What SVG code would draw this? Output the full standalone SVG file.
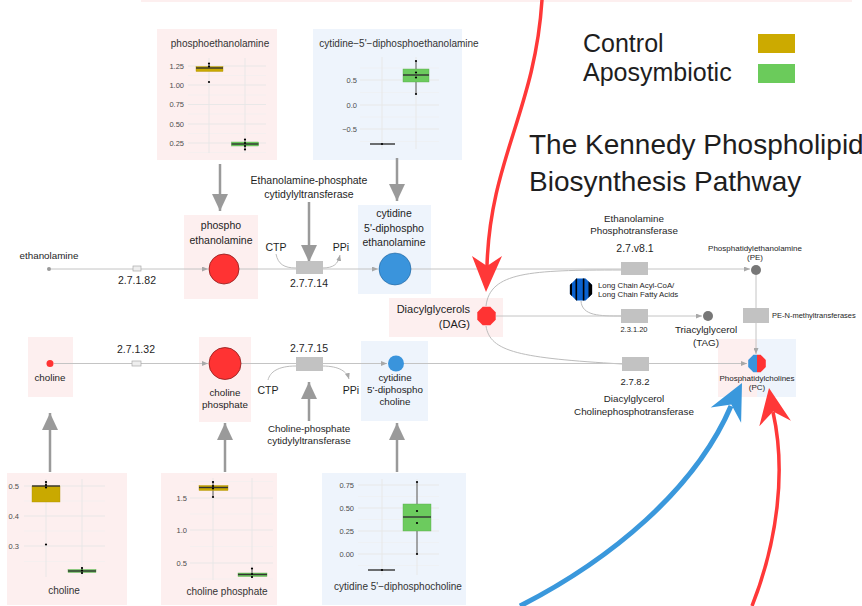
<svg xmlns="http://www.w3.org/2000/svg" width="862" height="606" viewBox="0 0 862 606">
<defs>
<style>
text{font-family:"Liberation Sans",Arial,sans-serif;fill:#1e1e1e}
.pk{fill:#fdefef}
.bl{fill:#eef4fc}
.ln{stroke:#c4c4c4;stroke-width:1;fill:none}
.cv{stroke:#bcbcbc;stroke-width:1;fill:none}
.enz{fill:#c2c2c2}
.ga{stroke:#9a9a9a;stroke-width:2.5;fill:none}
.l10{font-size:10.5px;text-anchor:middle}
.l95{font-size:9.8px;text-anchor:middle}
.l8{font-size:8px;text-anchor:middle}
.pt{font-size:10px;text-anchor:middle;fill:#333}
.tk{font-size:7.5px;text-anchor:end;fill:#4d4d4d}
.gM{stroke:#e6e6e6;stroke-width:0.9}
.gm{stroke:#efefef;stroke-width:0.5}
.gold{fill:#c9a900;stroke:#b09300;stroke-width:0.4}
.grn{fill:#6ccb5e;stroke:#55a848;stroke-width:0.4}
.med{stroke:#333;stroke-width:1.4}
.wh{stroke:#333;stroke-width:0.8}
.pd{fill:#000}
</style>
<marker id="sa" markerWidth="6" markerHeight="5" refX="6" refY="2.5" orient="auto" markerUnits="userSpaceOnUse"><path d="M0,0 L6,2.5 L0,5 z" fill="#a8a8a8"/></marker>
<marker id="gh" markerWidth="17" markerHeight="16" refX="17" refY="8" orient="auto" markerUnits="userSpaceOnUse"><path d="M0,0 L17,8 L0,16 z" fill="#9a9a9a"/></marker>
<clipPath id="lcclip"><polygon points="592.1,284.9 592.1,294.1 585.6,300.6 576.4,300.6 569.9,294.1 569.9,284.9 576.4,278.4 585.6,278.4"/></clipPath>
</defs>

<rect x="141" y="-5" width="711" height="7" class="pk"/>

<!-- plot: phosphoethanolamine -->
<g id="plot-phosphoethanolamine">
<rect x="157" y="29" width="120" height="131" class="pk"/>
<text x="220" y="47" class="pt">phosphoethanolamine</text>
<g>
<line x1="188" y1="75.5" x2="266" y2="75.5" class="gm"/><line x1="188" y1="95" x2="266" y2="95" class="gm"/><line x1="188" y1="114" x2="266" y2="114" class="gm"/><line x1="188" y1="133.5" x2="266" y2="133.5" class="gm"/><line x1="188" y1="152.5" x2="266" y2="152.5" class="gm"/>
<line x1="188" y1="66" x2="266" y2="66" class="gM"/><line x1="188" y1="85" x2="266" y2="85" class="gM"/><line x1="188" y1="104.5" x2="266" y2="104.5" class="gM"/><line x1="188" y1="124" x2="266" y2="124" class="gM"/><line x1="188" y1="143" x2="266" y2="143" class="gM"/>
<line x1="209" y1="58" x2="209" y2="153" class="gM"/><line x1="245" y1="58" x2="245" y2="153" class="gM"/>
</g>
<text x="184" y="68.5" class="tk">1.25</text><text x="184" y="87.5" class="tk">1.00</text><text x="184" y="107" class="tk">0.75</text><text x="184" y="126.5" class="tk">0.50</text><text x="184" y="145.5" class="tk">0.25</text>
<line x1="209" y1="63" x2="209" y2="68" class="wh"/>
<rect x="196" y="66.5" width="27" height="5" class="gold"/>
<line x1="196" y1="68" x2="223" y2="68" class="med"/>
<circle cx="209" cy="63.5" r="1.1" class="pd"/><circle cx="209" cy="66.5" r="1.1" class="pd"/><circle cx="209" cy="82" r="1.1" class="pd"/>
<line x1="245" y1="139" x2="245" y2="150" class="wh"/>
<rect x="231.5" y="142" width="27" height="4" class="grn"/>
<line x1="231.5" y1="144" x2="258.5" y2="144" class="med"/>
<circle cx="245" cy="139.5" r="1.1" class="pd"/><circle cx="245" cy="143" r="1.1" class="pd"/><circle cx="245" cy="146" r="1.1" class="pd"/><circle cx="245" cy="149.5" r="1.1" class="pd"/>
</g>

<!-- plot: cytidine-5'-diphosphoethanolamine -->
<g id="plot-cdp-ethanolamine">
<rect x="313" y="29" width="149" height="131" class="bl"/>
<text x="399" y="47" class="pt" font-size="9.5px">cytidine−5'−diphosphoethanolamine</text>
<g>
<line x1="360" y1="68" x2="439" y2="68" class="gm"/><line x1="360" y1="92.5" x2="439" y2="92.5" class="gm"/><line x1="360" y1="117" x2="439" y2="117" class="gm"/><line x1="360" y1="141.5" x2="439" y2="141.5" class="gm"/>
<line x1="360" y1="80" x2="439" y2="80" class="gM"/><line x1="360" y1="105" x2="439" y2="105" class="gM"/><line x1="360" y1="129" x2="439" y2="129" class="gM"/>
<line x1="382" y1="57" x2="382" y2="149" class="gM"/><line x1="416" y1="57" x2="416" y2="149" class="gM"/>
</g>
<text x="357" y="82.5" class="tk">0.5</text><text x="357" y="107.5" class="tk">0.0</text><text x="357" y="131.5" class="tk">−0.5</text>
<line x1="370" y1="144" x2="395" y2="144" class="med"/><circle cx="382" cy="144" r="1.1" class="pd"/>
<line x1="416" y1="61" x2="416" y2="94" class="wh"/>
<rect x="403" y="69" width="26" height="13" class="grn"/>
<line x1="403" y1="75" x2="429" y2="75" class="med"/>
<circle cx="416" cy="61" r="1.1" class="pd"/><circle cx="416" cy="72.5" r="1.1" class="pd"/><circle cx="416" cy="77.5" r="1.1" class="pd"/><circle cx="416" cy="94" r="1.1" class="pd"/>
</g>

<!-- plot: choline -->
<g id="plot-choline">
<rect x="7" y="473" width="120" height="132" class="pk"/>
<line x1="24" y1="501" x2="105" y2="501" class="gm"/><line x1="24" y1="531" x2="105" y2="531" class="gm"/><line x1="24" y1="561.5" x2="105" y2="561.5" class="gm"/>
<line x1="24" y1="486" x2="105" y2="486" class="gM"/><line x1="24" y1="516" x2="105" y2="516" class="gM"/><line x1="24" y1="546" x2="105" y2="546" class="gM"/>
<line x1="46" y1="479" x2="46" y2="577" class="gM"/><line x1="82" y1="479" x2="82" y2="577" class="gM"/>
<text x="19" y="488.5" class="tk">0.5</text><text x="19" y="518.5" class="tk">0.4</text><text x="19" y="548.5" class="tk">0.3</text>
<line x1="46" y1="481" x2="46" y2="487" class="wh"/>
<rect x="32" y="486" width="28" height="16" class="gold"/>
<line x1="32" y1="486" x2="60" y2="486" class="med"/>
<circle cx="46" cy="482" r="1.1" class="pd"/><circle cx="46" cy="485" r="1.1" class="pd"/><circle cx="46" cy="487.5" r="1.1" class="pd"/><circle cx="46" cy="544.5" r="1.1" class="pd"/>
<line x1="82" y1="567" x2="82" y2="574" class="wh"/>
<rect x="68" y="569.5" width="28" height="3" class="grn"/>
<line x1="68" y1="571" x2="96" y2="571" class="med"/>
<circle cx="82" cy="568" r="1.1" class="pd"/><circle cx="82" cy="570.5" r="1.1" class="pd"/><circle cx="82" cy="573" r="1.1" class="pd"/>
<text x="64" y="594" class="pt">choline</text>
</g>

<!-- plot: choline phosphate -->
<g id="plot-choline-phosphate">
<rect x="161" y="473" width="116" height="132" class="pk"/>
<line x1="190" y1="481.5" x2="273" y2="481.5" class="gm"/><line x1="190" y1="514" x2="273" y2="514" class="gm"/><line x1="190" y1="546.5" x2="273" y2="546.5" class="gm"/><line x1="190" y1="579" x2="273" y2="579" class="gm"/>
<line x1="190" y1="498" x2="273" y2="498" class="gM"/><line x1="190" y1="530" x2="273" y2="530" class="gM"/><line x1="190" y1="563" x2="273" y2="563" class="gM"/>
<line x1="213" y1="478" x2="213" y2="580" class="gM"/><line x1="252" y1="478" x2="252" y2="580" class="gM"/>
<text x="187" y="500.5" class="tk">1.5</text><text x="187" y="532.5" class="tk">1.0</text><text x="187" y="565.5" class="tk">0.5</text>
<line x1="213" y1="481" x2="213" y2="497" class="wh"/>
<rect x="199" y="485.5" width="29" height="5" class="gold"/>
<line x1="199" y1="487.5" x2="228" y2="487.5" class="med"/>
<circle cx="213" cy="482" r="1.1" class="pd"/><circle cx="213" cy="486" r="1.1" class="pd"/><circle cx="213" cy="488.5" r="1.1" class="pd"/><circle cx="213" cy="497" r="1.1" class="pd"/>
<line x1="252" y1="568" x2="252" y2="578" class="wh"/>
<rect x="238" y="573" width="29" height="3.5" class="grn"/>
<line x1="238" y1="574.5" x2="267" y2="574.5" class="med"/>
<circle cx="252" cy="568.5" r="1.1" class="pd"/><circle cx="252" cy="574" r="1.1" class="pd"/><circle cx="252" cy="577" r="1.1" class="pd"/>
<text x="227" y="595" class="pt">choline phosphate</text>
</g>

<!-- plot: cytidine 5'-diphosphocholine -->
<g id="plot-cdp-choline">
<rect x="322" y="473" width="144" height="132" class="bl"/>
<line x1="358" y1="496.5" x2="439" y2="496.5" class="gm"/><line x1="358" y1="519.5" x2="439" y2="519.5" class="gm"/><line x1="358" y1="542.5" x2="439" y2="542.5" class="gm"/><line x1="358" y1="565.5" x2="439" y2="565.5" class="gm"/>
<line x1="358" y1="485" x2="439" y2="485" class="gM"/><line x1="358" y1="508" x2="439" y2="508" class="gM"/><line x1="358" y1="531" x2="439" y2="531" class="gM"/><line x1="358" y1="554" x2="439" y2="554" class="gM"/>
<line x1="382" y1="479" x2="382" y2="575" class="gM"/><line x1="417" y1="479" x2="417" y2="575" class="gM"/>
<text x="354" y="487.5" class="tk">0.75</text><text x="354" y="510.5" class="tk">0.50</text><text x="354" y="533.5" class="tk">0.25</text><text x="354" y="556.5" class="tk">0.00</text>
<line x1="368" y1="570" x2="395" y2="570" class="med"/><circle cx="382" cy="570" r="1.1" class="pd"/>
<line x1="417" y1="482" x2="417" y2="554" class="wh"/>
<rect x="403" y="504" width="28" height="27" class="grn"/>
<line x1="403" y1="517" x2="431" y2="517" class="med"/>
<circle cx="417" cy="482" r="1.1" class="pd"/><circle cx="417" cy="511" r="1.1" class="pd"/><circle cx="417" cy="523" r="1.1" class="pd"/><circle cx="417" cy="554" r="1.1" class="pd"/>
<text x="398" y="590" class="pt">cytidine 5'−diphosphocholine</text>
</g>

<!-- background boxes for nodes -->
<g id="node-boxes">
<rect x="184" y="215" width="74" height="84" class="pk"/>
<rect x="358" y="205" width="73" height="89" class="bl"/>
<rect x="389" y="298" width="114" height="39" class="pk"/>
<rect x="28" y="337" width="45" height="60" class="pk"/>
<rect x="199" y="337" width="52" height="85" class="pk"/>
<rect x="361" y="341" width="67" height="80" class="bl"/>
<rect x="718" y="339" width="39" height="58" class="pk"/>
<rect x="757" y="339" width="39" height="58" class="bl"/>
</g>

<!-- connectors -->
<g id="connectors">
<path class="ln" d="M51,269 H133"/>
<path class="ln" d="M141,269 H208" marker-end="url(#sa)"/>
<path class="ln" d="M239,269 H296"/>
<path class="ln" d="M322,269 H378" marker-end="url(#sa)"/>
<path class="ln" d="M411,269 H621"/>
<path class="ln" d="M648,269 H750" marker-end="url(#sa)"/>
<path class="ln" d="M756,275 V308"/>
<path class="ln" d="M756,323 V354" marker-end="url(#sa)"/>
<path class="cv" d="M276,254 C278,264 284,268 296,268"/>
<path class="cv" d="M322,268 C334,268 338,264 340,255" marker-end="url(#sa)"/>
<path class="cv" d="M486,306 C490,272 530,270 621,270"/>
<path class="cv" d="M486,326 C490,352 520,358 622,364"/>
<path class="cv" d="M581,301 C582,316 600,316 621,316"/>
<path class="ln" d="M496,316 H621"/>
<path class="ln" d="M648,316 H702" marker-end="url(#sa)"/>
<path class="ln" d="M54,363.5 H132"/>
<path class="ln" d="M141,363.5 H208" marker-end="url(#sa)"/>
<path class="ln" d="M241,363.5 H296"/>
<path class="ln" d="M322,363.5 H387" marker-end="url(#sa)"/>
<path class="ln" d="M404,363.5 H622"/>
<path class="ln" d="M649,363.5 H747" marker-end="url(#sa)"/>
<path class="cv" d="M296,366 C278,366 270,372 268,380"/>
<path class="cv" d="M322,366 C340,366 347,372 349,379" marker-end="url(#sa)"/>
<!-- gray data arrows -->
<line x1="220" y1="164" x2="220" y2="211" class="ga" marker-end="url(#gh)"/>
<line x1="397" y1="158" x2="397" y2="201" class="ga" marker-end="url(#gh)"/>
<line x1="309" y1="202" x2="309" y2="262" class="ga" marker-end="url(#gh)"/>
<line x1="309" y1="421" x2="309" y2="382" class="ga" marker-end="url(#gh)"/>
<line x1="50" y1="472" x2="50" y2="413" class="ga" marker-end="url(#gh)"/>
<line x1="225" y1="472" x2="225" y2="423" class="ga" marker-end="url(#gh)"/>
<line x1="397" y1="472" x2="397" y2="423" class="ga" marker-end="url(#gh)"/>
<!-- highlight arrows -->
<path d="M542,0 C535,110 490,160 487,266" stroke="#ff3838" stroke-width="3.5" fill="none"/>
<path d="M486,292 L472,256 L487,266 L502,256 Z" fill="#ff3838"/>
<path d="M520,606 C610,560 695,490 731,406" stroke="#3a98dc" stroke-width="5" fill="none"/>
<path d="M742,383 L741.1,422.8 L731.3,404.5 L710.7,407.6 Z" fill="#3a98dc"/>
<path d="M752,606 C778,540 786,470 773,412" stroke="#ff3838" stroke-width="3.5" fill="none"/>
<path d="M769,388 L790.9,420.8 L773.1,411.6 L759.3,426.2 Z" fill="#ff3838"/>
</g>

<!-- nodes -->
<g id="ethanolamine">
<circle cx="49" cy="269" r="2" fill="#999"/>
<text x="49" y="259" class="l95">ethanolamine</text>
</g>
<g id="enz-2.7.1.82">
<rect x="133" y="266" width="8" height="5" fill="#eee" stroke="#aaa" stroke-width="0.7"/>
<text x="137" y="284" class="l10">2.7.1.82</text>
</g>
<g id="phosphoethanolamine">
<circle cx="224" cy="269" r="15" fill="#ff3333" stroke="#8a1a1a" stroke-width="0.8"/>
<text x="221" y="229" class="l10">phospho</text>
<text x="221" y="244" class="l10">ethanolamine</text>
</g>
<g id="enz-2.7.7.14">
<rect x="296" y="261" width="27" height="13" class="enz"/>
<text x="309" y="287" class="l10">2.7.7.14</text>
<text x="276" y="251" class="l10">CTP</text>
<text x="341" y="251" class="l10">PPi</text>
<text x="309" y="184" class="l10">Ethanolamine-phosphate</text>
<text x="309" y="198" class="l10">cytidylyltransferase</text>
</g>
<g id="cdp-ethanolamine">
<circle cx="395" cy="269" r="16" fill="#3a94dc" stroke="#1f5f99" stroke-width="0.6"/>
<text x="394" y="217" class="l10">cytidine</text>
<text x="394" y="232" class="l10">5'-diphospho</text>
<text x="394" y="246" class="l10">ethanolamine</text>
</g>
<g id="enz-2.7.v8.1">
<rect x="621" y="262" width="27" height="13" class="enz"/>
<text x="635" y="252" class="l10">2.7.v8.1</text>
<text x="634" y="222" class="l95">Ethanolamine</text>
<text x="634" y="234" class="l95">Phosphotransferase</text>
</g>
<g id="PE">
<circle cx="756" cy="270" r="5" fill="#777"/>
<text x="755" y="251" class="l8">Phosphatidylethanolamine</text>
<text x="755" y="260" class="l8">(PE)</text>
</g>
<g id="enz-PE-N-methyltransferases">
<rect x="743" y="308" width="26" height="15" class="enz"/>
<text x="772" y="318" font-size="7.5px">PE-N-methyltransferases</text>
</g>
<g id="DAG">
<polygon points="495.7,312.2 495.7,319.8 490.3,325.2 482.7,325.2 477.3,319.8 477.3,312.2 482.7,306.8 490.3,306.8" fill="#ff3333"/>
<text x="470" y="313" font-size="11px" text-anchor="end">Diacylglycerols</text>
<text x="470" y="328" font-size="11px" text-anchor="end">(DAG)</text>
</g>
<g id="long-chain-acyl-coa">
<g clip-path="url(#lcclip)">
<rect x="568" y="277" width="26" height="25" fill="#0a62cf"/>
<rect x="568" y="277" width="4" height="25" fill="#000"/>
<rect x="575.5" y="277" width="1.6" height="25" fill="#000"/>
<rect x="582.8" y="277" width="1.6" height="25" fill="#000"/>
<rect x="588.5" y="277" width="5" height="25" fill="#000"/>
</g>
<text x="598" y="288" font-size="7.8px">Long Chain Acyl-CoA/</text>
<text x="598" y="297" font-size="7.8px">Long Chain Fatty Acids</text>
</g>
<g id="enz-2.3.1.20">
<rect x="621" y="309" width="27" height="14" class="enz"/>
<text x="634" y="332" font-size="7.5px" text-anchor="middle">2.3.1.20</text>
</g>
<g id="TAG">
<circle cx="708" cy="316" r="5" fill="#777"/>
<text x="706" y="333" class="l95">Triacylglycerol</text>
<text x="706" y="346" class="l95">(TAG)</text>
</g>
<g id="enz-2.7.8.2">
<rect x="622" y="357" width="27" height="14" class="enz"/>
<text x="635" y="385" font-size="9.5px" text-anchor="middle">2.7.8.2</text>
<text x="634" y="402" class="l95">Diacylglycerol</text>
<text x="634" y="415" class="l95">Cholinephosphotransferase</text>
</g>
<g id="PC">
<polygon points="757,354.7 753.4,354.7 748.2,359.9 748.2,367.1 753.4,372.3 757,372.3" fill="#3a94dc"/>
<polygon points="757,354.7 760.6,354.7 765.8,359.9 765.8,367.1 760.6,372.3 757,372.3" fill="#ff3333"/>
<text x="757" y="381" class="l8">Phosphatidylcholines</text>
<text x="757" y="390" class="l8">(PC)</text>
</g>
<g id="choline">
<circle cx="50" cy="363.5" r="3.5" fill="#ff3333"/>
<text x="50" y="381" class="l95">choline</text>
</g>
<g id="enz-2.7.1.32">
<rect x="132" y="361" width="9" height="5" fill="#eee" stroke="#aaa" stroke-width="0.7"/>
<text x="136" y="353" class="l10">2.7.1.32</text>
</g>
<g id="choline-phosphate">
<circle cx="225" cy="363.5" r="16" fill="#ff3333" stroke="#8a1a1a" stroke-width="0.8"/>
<text x="225" y="396" class="l95">choline</text>
<text x="225" y="408" class="l95">phosphate</text>
</g>
<g id="enz-2.7.7.15">
<rect x="296" y="357" width="27" height="14" class="enz"/>
<text x="309" y="352" class="l10">2.7.7.15</text>
<text x="268" y="394" class="l10">CTP</text>
<text x="351" y="394" class="l10">PPi</text>
<text x="309" y="432" class="l95">Choline-phosphate</text>
<text x="309" y="444" class="l95">cytidylyltransferase</text>
</g>
<g id="cdp-choline">
<circle cx="396" cy="363.5" r="8" fill="#3a94dc"/>
<text x="395" y="381" class="l95">cytidine</text>
<text x="395" y="393" class="l95">5'-diphospho</text>
<text x="395" y="405" class="l95">choline</text>
</g>

<g id="legend">
<text x="583" y="52" font-size="25px" fill="#111">Control</text>
<text x="583" y="81" font-size="25px" fill="#111">Aposymbiotic</text>
<rect x="758" y="34" width="37" height="19" fill="#ccaa00"/>
<rect x="758" y="64" width="37" height="19" fill="#6bcb5b"/>
</g>
<g id="title">
<text x="529" y="154" font-size="28px" fill="#111">The Kennedy Phospholipid</text>
<text x="529" y="191" font-size="28px" fill="#111">Biosynthesis Pathway</text>
</g>
</svg>
